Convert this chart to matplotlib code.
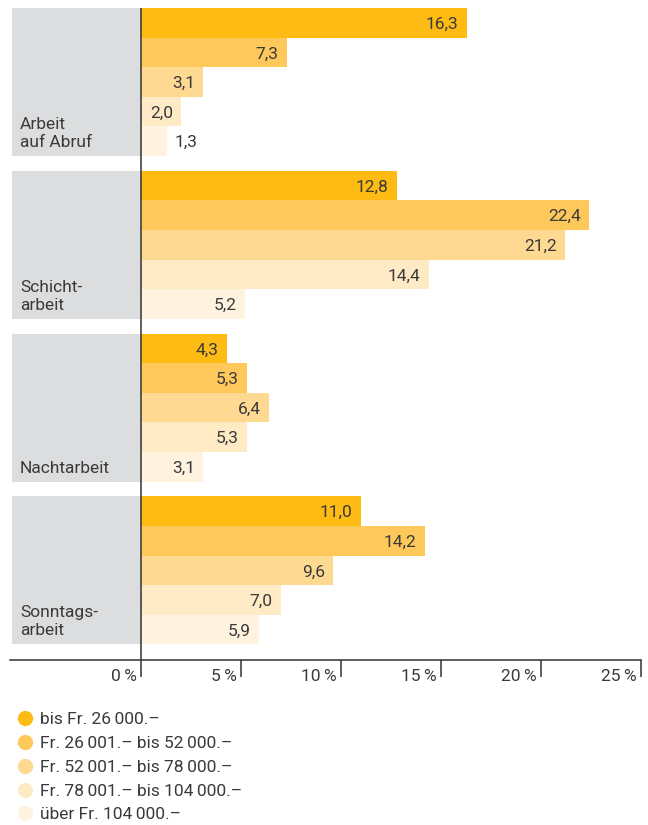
import matplotlib
matplotlib.use("Agg")
import matplotlib.pyplot as plt
from matplotlib.lines import Line2D
import matplotlib.transforms as mtransforms

plt.rcParams['font.family'] = ['Roboto', 'DejaVu Sans']

categories = ["Arbeit\nauf Abruf", "Schicht-\narbeit", "Nachtarbeit", "Sonntags-\narbeit"]
series = ["bis Fr. 26\u2009000.\u2013",
          "Fr. 26\u2009001.\u2013 bis 52\u2009000.\u2013",
          "Fr. 52\u2009001.\u2013 bis 78\u2009000.\u2013",
          "Fr. 78\u2009001.\u2013 bis 104\u2009000.\u2013",
          "über Fr. 104\u2009000.\u2013"]
values = [
    [16.3, 7.3, 3.1, 2.0, 1.3],
    [12.8, 22.4, 21.2, 14.4, 5.2],
    [4.3, 5.3, 6.4, 5.3, 3.1],
    [11.0, 14.2, 9.6, 7.0, 5.9],
]
ticks = [0, 5, 10, 15, 20, 25]
colors = ["#FDBB14", "#FEC95A", "#FED991", "#FFEAC6", "#FFF3E0"]
gray = "#DCDDDF"
text_col = "#3A3A3A"
fs = 12.5

W, H = 648, 825
fig = plt.figure(figsize=(W / 100, H / 100), dpi=100)
ax_left, ax_right = 10, 641
ax_top, ax_bot = 8, 660
ax = fig.add_axes([ax_left / W, (H - ax_bot) / H, (ax_right - ax_left) / W, (ax_bot - ax_top) / H])

x0 = 141
px_per = 19.98
ax.set_xlim(-(x0 - ax_left) / px_per, (ax_right - x0) / px_per)
bar_px = 29.6
ax.set_ylim((ax_bot - ax_top) / bar_px, 0)

stride = 5.5
for g, cat in enumerate(categories):
    top = g * stride
    gx = -(x0 - 12) / px_per
    ax.barh(top + 2.5, -gx, left=gx, height=5, color=gray, zorder=1)
    ax.text(gx + 8 / px_per, top + 4.8, cat, ha='left', va='bottom', fontsize=fs,
            color=text_col, linespacing=1.25)
    for i, v in enumerate(values[g]):
        y = top + i + 0.5
        ax.barh(y, v, height=1.0, color=colors[i], zorder=2)
        lbl = f"{v:.1f}".replace('.', ',')
        if v < 1.6:
            ax.text(v + 8 / px_per, y + 0.05, lbl, ha='left', va='center', fontsize=fs, color=text_col)
        else:
            ax.text(v - 8 / px_per, y + 0.05, lbl, ha='right', va='center', fontsize=fs, color=text_col)

ax.axvline(0, color="#333333", lw=1.1, zorder=3)
for s in ['top', 'right', 'left']:
    ax.spines[s].set_visible(False)
ax.spines['bottom'].set_color("#333333")
ax.spines['bottom'].set_linewidth(1.1)
ax.set_yticks([])
ax.set_xticks(ticks)
ax.tick_params(axis='x', direction='out', length=12, width=1.1, color="#333333", labelbottom=False)
trans = mtransforms.blended_transform_factory(ax.transData, ax.transAxes)
for t in ticks:
    ax.text(t - 4 / px_per, -0.026, f"{t}\u2009%", transform=trans, ha='right', va='center',
            fontsize=fs, color=text_col)

handles = [Line2D([], [], marker='o', linestyle='none', markersize=11, markerfacecolor=c,
                  markeredgecolor='none') for c in colors]
fig.legend(handles, series, loc='upper left', bbox_to_anchor=(18 / W, 1 - 712 / H),
           frameon=False, fontsize=fs, labelspacing=0.5, handlelength=0.8,
           handletextpad=0.45, borderpad=0, borderaxespad=0, labelcolor=text_col)

fig.savefig("out.png", dpi=100)
